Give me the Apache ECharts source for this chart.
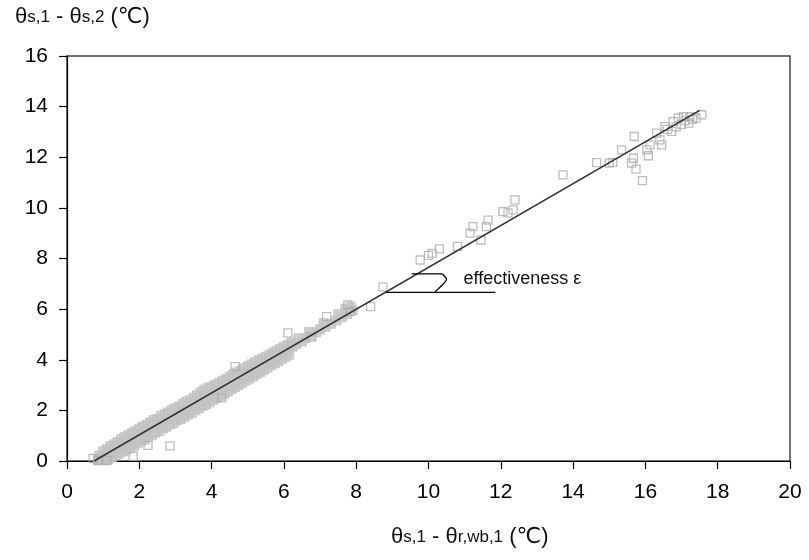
<!DOCTYPE html>
<html>
<head>
<meta charset="utf-8">
<script src="https://cdn.jsdelivr.net/npm/echarts@6/dist/echarts.min.js"></script>
<style>html,body{margin:0;padding:0;background:#fff}#c{width:809px;height:560px}</style>
</head>
<body>
<div id="c"></div>
<script>
// Dense measured band (overlapping squares)
const bandUpper = [[0.9,0.22],[1.0,0.38],[1.1,0.47],[1.2,0.58],[1.3,0.66],[1.4,0.75],[1.5,0.86],[1.6,0.95],[1.7,1.02],[1.8,1.12],[1.9,1.18],[2.0,1.28],[2.1,1.36],[2.2,1.42],[2.3,1.52],[2.4,1.62],[2.5,1.66],[2.6,1.78],[2.7,1.85],[2.8,1.92],[2.9,2.02],[3.0,2.08],[3.1,2.15],[3.2,2.26],[3.3,2.33],[3.4,2.40],[3.5,2.50],[3.6,2.60],[3.7,2.72],[3.8,2.82],[3.9,2.88],[4.0,2.94],[4.1,3.00],[4.2,3.08],[4.3,3.16],[4.4,3.24],[4.5,3.33],[4.6,3.42],[4.7,3.50],[4.8,3.57],[4.9,3.66],[5.0,3.74],[5.1,3.82],[5.2,3.90],[5.3,3.98],[5.4,4.05],[5.5,4.12],[5.6,4.20],[5.7,4.28],[5.8,4.36],[5.9,4.44],[6.0,4.52],[6.1,4.58],[6.2,4.68]];
const bandCenter = [[0.85,0.05],[1.0,0.17],[1.15,0.3],[1.3,0.42],[1.45,0.55],[1.6,0.66],[1.75,0.79],[1.9,0.91],[2.05,1.04],[2.2,1.16],[2.35,1.28],[2.5,1.41],[2.65,1.53],[2.8,1.66],[2.95,1.78],[3.1,1.91],[3.25,2.03],[3.4,2.16],[3.55,2.28],[3.7,2.4],[3.85,2.53],[4.0,2.65],[4.15,2.78],[4.3,2.9],[4.45,3.02],[4.6,3.15],[4.75,3.27],[4.9,3.4],[5.05,3.52],[5.2,3.65],[5.35,3.77],[5.5,3.9],[5.65,4.02],[5.8,4.14],[5.95,4.27],[6.1,4.4],[6.25,4.52],[6.35,4.62],[6.5,4.72],[6.6,4.85],[6.75,4.95],[6.9,5.08],[7.0,5.2],[7.15,5.3],[7.3,5.42],[7.45,5.55],[7.6,5.68],[7.75,5.8],[7.9,5.95],[6.4,4.85],[6.7,5.1],[7.1,5.45],[7.5,5.8],[7.7,6.02],[7.85,6.1]];
const bandLower = [[0.95,0.05],[1.05,0.05],[1.15,0.08],[1.25,0.16],[1.35,0.22],[1.45,0.3],[1.55,0.38],[1.65,0.45],[1.75,0.55],[1.85,0.6],[1.95,0.7],[2.05,0.8],[2.15,0.85],[2.25,0.95],[2.35,1.02],[2.45,1.12],[2.55,1.18],[2.65,1.28],[2.75,1.35],[2.85,1.45],[2.95,1.5],[3.05,1.6],[3.15,1.66],[3.25,1.75],[3.35,1.84],[3.45,1.9],[3.55,2.0],[3.65,2.08],[3.75,2.18],[3.85,2.24],[3.95,2.32],[4.05,2.42],[4.15,2.5],[4.25,2.58],[4.35,2.66],[4.45,2.74],[4.55,2.84],[4.65,2.92],[4.75,3.0],[4.85,3.08],[4.95,3.18],[5.05,3.26],[5.15,3.34],[5.25,3.44],[5.35,3.52],[5.45,3.6],[5.55,3.68],[5.65,3.78],[5.75,3.86],[5.85,3.94],[5.95,4.04],[6.05,4.12],[6.15,4.2]];
// Individual (sparse) measurements
const sparsePoints = [[0.72,0.1],[0.86,0.02],[1.1,0.02],[1.83,0.18],[2.24,0.62],[2.85,0.6],[4.28,2.5],[4.65,3.73],[6.11,5.06],[6.77,4.9],[7.18,5.7],[7.77,6.17],[7.83,5.9],[8.4,6.1],[8.74,6.88],[9.77,7.94],[10.0,8.12],[10.1,8.2],[10.3,8.38],[10.8,8.48],[11.15,9.0],[11.23,9.26],[11.45,8.73],[11.6,9.26],[11.65,9.52],[12.06,9.85],[12.2,9.8],[12.34,9.92],[12.39,10.32],[13.72,11.3],[14.65,11.79],[15.0,11.77],[15.1,11.8],[15.34,12.29],[15.62,11.77],[15.67,11.96],[15.69,12.82],[15.74,11.53],[15.92,11.08],[16.04,12.29],[16.08,12.06],[16.13,12.49],[16.31,12.95],[16.4,12.69],[16.45,12.49],[16.54,13.21],[16.6,13.1],[16.73,13.02],[16.77,13.41],[16.85,13.2],[16.91,13.55],[17.0,13.3],[17.05,13.6],[17.1,13.45],[17.2,13.35],[17.23,13.6],[17.3,13.5],[17.4,13.55],[17.56,13.68]];
// Fitted line
const fitLine = [[0.75,0],[17.5,13.85]];
// Angle annotation
const angleBase = [[8.82,6.66],[11.85,6.66]];
const angleArc = [[9.535,7.39],[10.365,7.39],[10.5,7.18],[10.18,6.69]];
const annotationText = 'effectiveness ε';

const FONT = '"Liberation Sans", Arial, "DejaVu Sans", sans-serif';
const chart = echarts.init(document.getElementById('c'), null, {renderer:'canvas'});
const bandStyle = {color:'#c4c4c4', borderColor:'#c0c0c0', borderWidth:1};
const rich = {t:{fontSize:22, fontFamily:FONT, color:'#111', fontWeight:'normal'}, s:{fontSize:17, fontFamily:FONT, color:'#111', fontWeight:'normal'}};
chart.setOption({
  animation:false,
  backgroundColor:'#fff',
  title:[
    {text:'{t|θ}{s|s,1}{t| - θ}{s|s,2}{t| (℃)}', left:10, top:1, textStyle:{fontWeight:'normal', rich}},
    {text:'{t|θ}{s|s,1}{t| - θ}{s|r,wb,1}{t| (℃)}', left:386, top:521, textStyle:{fontWeight:'normal', rich}}
  ],
  grid:{left:67, right:19, top:56, bottom:99, show:true, borderColor:'#444', borderWidth:1.5, containLabel:false},
  xAxis:{type:'value', min:0, max:20, interval:2,
    axisLine:{show:true, onZero:false, lineStyle:{color:'#000', width:1.2}},
    axisTick:{show:true, inside:false, length:8, lineStyle:{color:'#000', width:1.2}},
    axisLabel:{margin:21, fontSize:21, color:'#000', fontFamily:FONT},
    splitLine:{show:false}},
  yAxis:{type:'value', min:0, max:16, interval:2,
    axisLine:{show:true, onZero:false, lineStyle:{color:'#000', width:1.2}},
    axisTick:{show:true, inside:false, length:8, lineStyle:{color:'#000', width:1.2}},
    axisLabel:{margin:19, fontSize:21, color:'#000', fontFamily:FONT},
    splitLine:{show:false}},
  series:[
    {type:'scatter', data:bandUpper, symbol:'rect', symbolSize:9, itemStyle:bandStyle, z:2, silent:true},
    {type:'scatter', data:bandLower, symbol:'rect', symbolSize:9, itemStyle:bandStyle, z:2, silent:true},
    {type:'scatter', data:bandCenter, symbol:'rect', symbolSize:9, itemStyle:bandStyle, z:2, silent:true},
    {type:'scatter', data:sparsePoints, symbol:'rect', symbolSize:8, itemStyle:{color:'rgba(255,255,255,0)', borderColor:'#adadad', borderWidth:1.3}, z:3, silent:true},
    {type:'line', data:fitLine, symbol:'none', lineStyle:{color:'#333', width:1.6}, z:5, silent:true},
    {type:'line', data:angleBase, symbol:'none', lineStyle:{color:'#000', width:1.3}, z:6, silent:true},
    {type:'line', data:angleArc, symbol:'none', smooth:0.2, lineStyle:{color:'#000', width:1.3}, z:6, silent:true,
      markPoint:{symbol:'circle', symbolSize:0, data:[{coord:angleArc[2], label:{show:true, formatter:annotationText, position:'right', distance:17, fontSize:18, color:'#111', fontFamily:FONT}}]}}
  ]
});
</script>
</body>
</html>
